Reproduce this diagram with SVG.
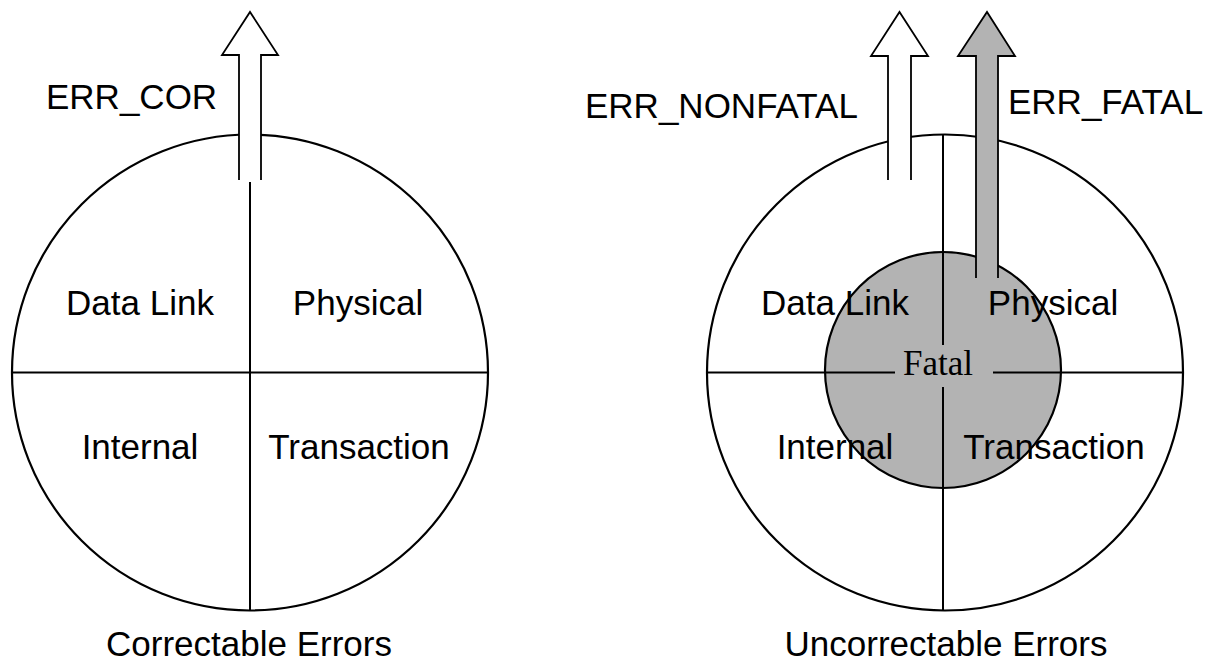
<svg xmlns="http://www.w3.org/2000/svg" width="1213" height="665" viewBox="0 0 1213 665">
<style>
.ln{fill:none;stroke:#000;stroke-width:2}
.circ{fill:none;stroke:#000;stroke-width:2.2}
.fat{fill:#b3b3b3;stroke:#000;stroke-width:2.2}
.arw{fill:#fff;stroke:#000;stroke-width:1.8;stroke-linejoin:miter}
.arwg{fill:#b3b3b3;stroke:#000;stroke-width:1.8;stroke-linejoin:miter}
.lbl{font-family:"Liberation Sans",Arial,sans-serif;font-size:35px;fill:#000;text-anchor:middle}
.lbls{font-family:"Liberation Sans",Arial,sans-serif;font-size:35px;fill:#000}
.ser{font-family:"Liberation Serif","Times New Roman",serif;font-size:35px;fill:#000;text-anchor:middle}
</style>
<g id="left-diagram">
  <circle class="circ" cx="250" cy="372.5" r="238"/>
  <line class="ln" x1="12" y1="372.5" x2="488" y2="372.5"/>
  <line class="ln" x1="250" y1="182" x2="250" y2="610"/>
  <text class="lbl" x="140" y="315">Data Link</text>
  <text class="lbl" x="358" y="315">Physical</text>
  <text class="lbl" x="140" y="459">Internal</text>
  <text class="lbl" x="359" y="459">Transaction</text>
  <text class="lbl" x="249" y="656">Correctable Errors</text>
</g>
<g id="right-diagram">
  <circle class="circ" cx="945" cy="372.5" r="238"/>
  <line class="ln" x1="707" y1="372.5" x2="1183" y2="372.5"/>
  <line class="ln" x1="943" y1="135" x2="943" y2="610"/>
  <circle id="fatal" class="fat" cx="943" cy="370" r="118"/>
  <line class="ln" x1="825" y1="372.5" x2="1061" y2="372.5"/>
  <line class="ln" x1="943" y1="252" x2="943" y2="488"/>
  <rect x="895" y="345" width="98" height="42" fill="#b3b3b3"/>
  <text class="ser" x="938" y="375">Fatal</text>
  <text class="lbl" x="835" y="315">Data Link</text>
  <text class="lbl" x="1053" y="315">Physical</text>
  <text class="lbl" x="835" y="459">Internal</text>
  <text class="lbl" x="1054" y="459">Transaction</text>
  <text class="lbl" x="946" y="656">Uncorrectable Errors</text>
</g>
<g id="connectors">
  <path id="arrow-cor" class="arw" d="M239,180 V55 H222 L250,12 L278,55 H261 V180"/>
  <path id="arrow-nonfatal" class="arw" d="M888,180 V56 H871 L899.5,12 L928,56 H911 V180"/>
  <path id="arrow-fatal" class="arwg" d="M976,278 V56 H958 L987,12 L1015,56 H998 V278"/>
</g>
<g id="labels">
  <text class="lbls" x="46" y="109">ERR_COR</text>
  <text class="lbls" x="585" y="118">ERR_NONFATAL</text>
  <text class="lbls" x="1008" y="114">ERR_FATAL</text>
</g>
</svg>
